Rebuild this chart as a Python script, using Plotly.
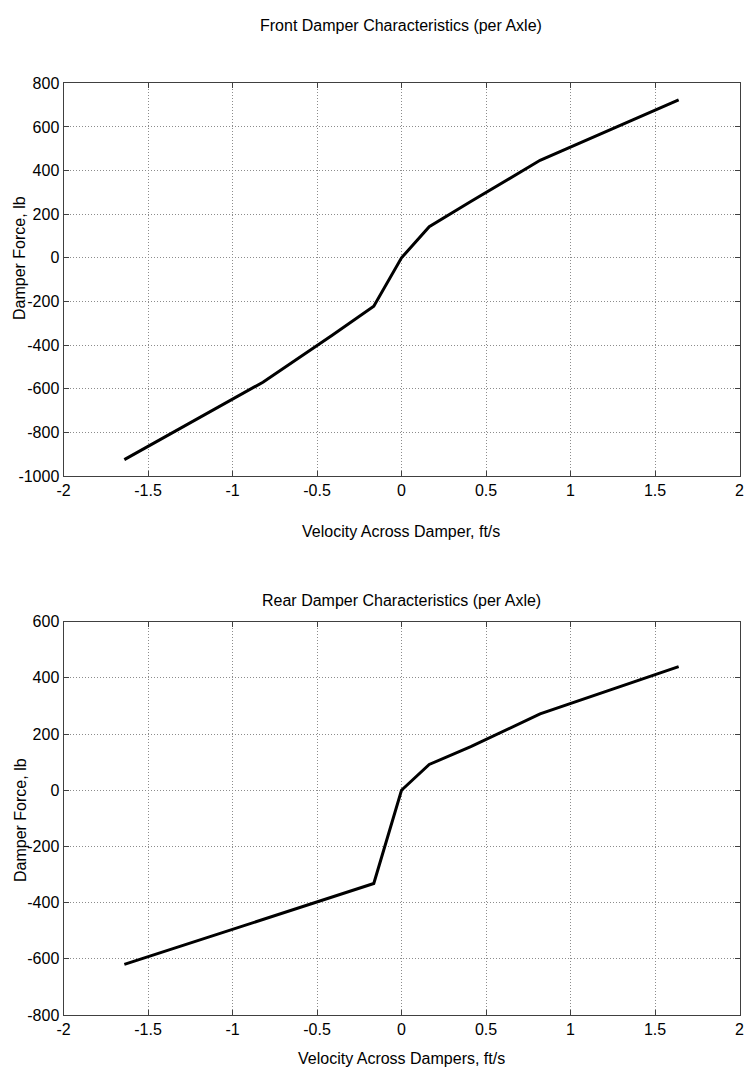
import plotly.graph_objects as go

# Damper force vs. velocity, front and rear (per axle)
velocity_ft_s = [-1.64, -0.82, -0.41, -0.164, 0.0, 0.164, 0.41, 0.82, 1.64]
front_force_lb = [-925, -570, -355, -222, 0, 143, 258, 447, 724]
rear_force_lb = [-620, -460, -382, -332, 0, 92, 155, 272, 440]

x_ticks = [-2, -1.5, -1, -0.5, 0, 0.5, 1, 1.5, 2]
x_tick_text = ["-2", "-1.5", "-1", "-0.5", "0", "0.5", "1", "1.5", "2"]
front_y_ticks = [-1000, -800, -600, -400, -200, 0, 200, 400, 600, 800]
rear_y_ticks = [-800, -600, -400, -200, 0, 200, 400, 600]

FONT = "Liberation Sans, Arial, Helvetica, sans-serif"
FS = 16
W, H = 744, 1073

x_dom = [63.5 / W, 739.5 / W]
front_dom = [1 - 476.0 / H, 1 - 83.3 / H]
rear_dom = [1 - 1015.0 / H, 1 - 621.7 / H]

fig = go.Figure()
fig.add_trace(go.Scatter(x=velocity_ft_s, y=front_force_lb, mode="lines",
                         line=dict(color="black", width=3), xaxis="x", yaxis="y",
                         showlegend=False, hoverinfo="x+y"))
fig.add_trace(go.Scatter(x=velocity_ft_s, y=rear_force_lb, mode="lines",
                         line=dict(color="black", width=3), xaxis="x2", yaxis="y2",
                         showlegend=False, hoverinfo="x+y"))

axis_common = dict(
    showline=True, linecolor="#404040", linewidth=1, mirror="ticks",
    ticks="inside", ticklen=5, tickcolor="#404040", tickwidth=1,
    showgrid=True, gridcolor="#8c8c8c", griddash="1px,2px", gridwidth=1,
    zeroline=False, tickfont=dict(family=FONT, size=FS, color="black"),
    automargin=False, ticklabeloverflow="allow",
)

fig.update_layout(
    width=W, height=H,
    margin=dict(l=0, r=0, t=0, b=0),
    paper_bgcolor="white", plot_bgcolor="white",
    font=dict(family=FONT, size=FS, color="black"),
    xaxis=dict(domain=x_dom, anchor="y", range=[-2, 2], tickvals=x_ticks,
               ticktext=x_tick_text, **axis_common),
    yaxis=dict(domain=front_dom, anchor="x", range=[-1000, 800],
               tickvals=front_y_ticks, ticktext=[str(v) for v in front_y_ticks],
               **axis_common),
    xaxis2=dict(domain=x_dom, anchor="y2", range=[-2, 2], tickvals=x_ticks,
                ticktext=x_tick_text, **axis_common),
    yaxis2=dict(domain=rear_dom, anchor="x2", range=[-800, 600],
                tickvals=rear_y_ticks, ticktext=[str(v) for v in rear_y_ticks],
                **axis_common),
)

def label(text, x_px, y_px, angle=0):
    fig.add_annotation(text=text, x=x_px / W, y=1 - y_px / H, xref="paper",
                       yref="paper", showarrow=False, textangle=angle,
                       xanchor="center", yanchor="middle",
                       font=dict(family=FONT, size=FS, color="black"))

label("Front Damper Characteristics (per Axle)", 401, 26)
label("Velocity Across Damper, ft/s", 401, 531)
label("Damper Force, lb", 20, 258, -90)
label("Rear Damper Characteristics (per Axle)", 401, 600)
label("Velocity Across Dampers, ft/s", 401, 1058)
label("Damper Force, lb", 20, 820, -90)

fig.write_html("out.html")
